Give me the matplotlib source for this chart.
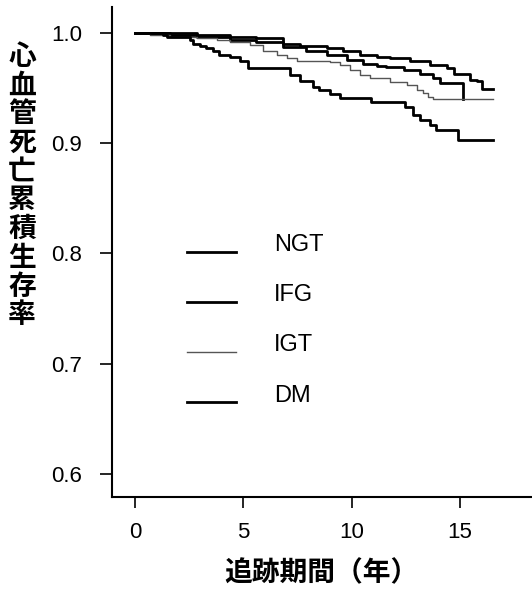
import matplotlib
matplotlib.use("Agg")
import matplotlib.pyplot as plt

# 累積生存率（階段状）: 追跡年数と生存率
ngt_t = [0, 2.85, 4.38, 5.6, 6.85, 7.6, 8.85, 9.6, 10.4, 11.15, 11.77, 12.69, 13.6, 14.38, 14.7, 15.46, 15.8, 16.0, 16.5]
ngt_s = [1.0, 0.998, 0.996, 0.995, 0.990, 0.988, 0.986, 0.983, 0.980, 0.978, 0.977, 0.974, 0.971, 0.968, 0.963, 0.957, 0.9558, 0.949, 0.949]

ifg_t = [0, 1.6, 2.85, 4.38, 5.6, 6.85, 7.9, 8.85, 9.77, 10.5, 11.15, 11.6, 12.4, 13.15, 13.77, 14.07, 15.12, 15.15]
ifg_s = [1.0, 0.998, 0.996, 0.9934, 0.992, 0.987, 0.983, 0.980, 0.975, 0.972, 0.970, 0.969, 0.966, 0.963, 0.9586, 0.954, 0.940, 0.940]

igt_t = [0, 0.7, 1.6, 2.85, 3.77, 4.38, 5.3, 5.92, 6.54, 7.0, 7.46, 9.0, 9.46, 9.92, 10.38, 10.85, 11.77, 12.54, 13.0, 13.3, 13.54, 13.77, 16.5]
igt_s = [1.0, 0.998, 0.996, 0.995, 0.993, 0.992, 0.989, 0.983, 0.980, 0.977, 0.974, 0.973, 0.971, 0.966, 0.962, 0.9586, 0.9556, 0.9526, 0.948, 0.945, 0.942, 0.940, 0.940]

dm_t = [0, 1.3, 1.5, 2.55, 2.7, 3.0, 3.3, 3.6, 3.9, 4.38, 4.85, 5.2, 7.15, 7.6, 8.2, 8.5, 9.0, 9.46, 10.9, 12.3, 12.46, 12.83, 13.15, 13.6, 13.9, 14.92, 16.5]
dm_s = [1.0, 0.998, 0.996, 0.993, 0.990, 0.988, 0.986, 0.983, 0.980, 0.978, 0.974, 0.968, 0.962, 0.956, 0.951, 0.948, 0.944, 0.941, 0.937, 0.937, 0.933, 0.925, 0.921, 0.916, 0.912, 0.903, 0.903]

ylabel_chars = "心血管死亡累積生存率"
xlabel = "追跡期間（年）"

plt.rcParams["font.family"] = ["Liberation Sans", "DejaVu Sans"]

fig = plt.figure(figsize=(5.32, 5.92), dpi=100)
ax = fig.add_axes([112 / 532, 95 / 592, 420 / 532, 490 / 592])

ax.step(ngt_t, ngt_s, where="post", color="black", lw=2.0, label="NGT")
ax.step(ifg_t, ifg_s, where="post", color="black", lw=2.0, label="IFG")
ax.step(igt_t, igt_s, where="post", color="#555555", lw=1.0, label="IGT")
ax.step(dm_t, dm_s, where="post", color="black", lw=2.0, label="DM")

ax.set_xlim(-1.06, 18.32)
ax.set_ylim(0.5791, 1.0233)
ax.set_xticks([0, 5, 10, 15])
ax.set_yticks([0.6, 0.7, 0.8, 0.9, 1.0])
ax.set_yticklabels(["0.6", "0.7", "0.8", "0.9", "1.0"])
ax.tick_params(axis="y", length=8.5, width=1.2, pad=13, labelsize=16)
ax.tick_params(axis="x", length=8, width=1.2, pad=10, labelsize=16)
for side in ["top", "right"]:
    ax.spines[side].set_visible(False)
for side in ["left", "bottom"]:
    ax.spines[side].set_linewidth(1.5)

leg = ax.legend(loc="center left", bbox_to_anchor=(0.178, 0.342), frameon=False,
                fontsize=17, handlelength=2.1, handletextpad=1.6, labelspacing=1.19,
                borderpad=0, borderaxespad=0)
# ラベルは線より少し上に
for t in leg.get_texts():
    t.set_y(9)

cjk = ["Noto Sans CJK JP", "DejaVu Sans"]
top_px, pitch = 57, 28.7
for i, ch in enumerate(ylabel_chars):
    fig.text(22 / 532, 1 - (top_px + i * pitch) / 592, ch, ha="center", va="center",
             fontsize=20, fontweight="bold", family=cjk)

fig.text(321 / 532, 1 - 573.5 / 592, xlabel, ha="center", va="center",
         fontsize=20, fontweight="bold", family=cjk)

fig.savefig("out.png", dpi=100)
